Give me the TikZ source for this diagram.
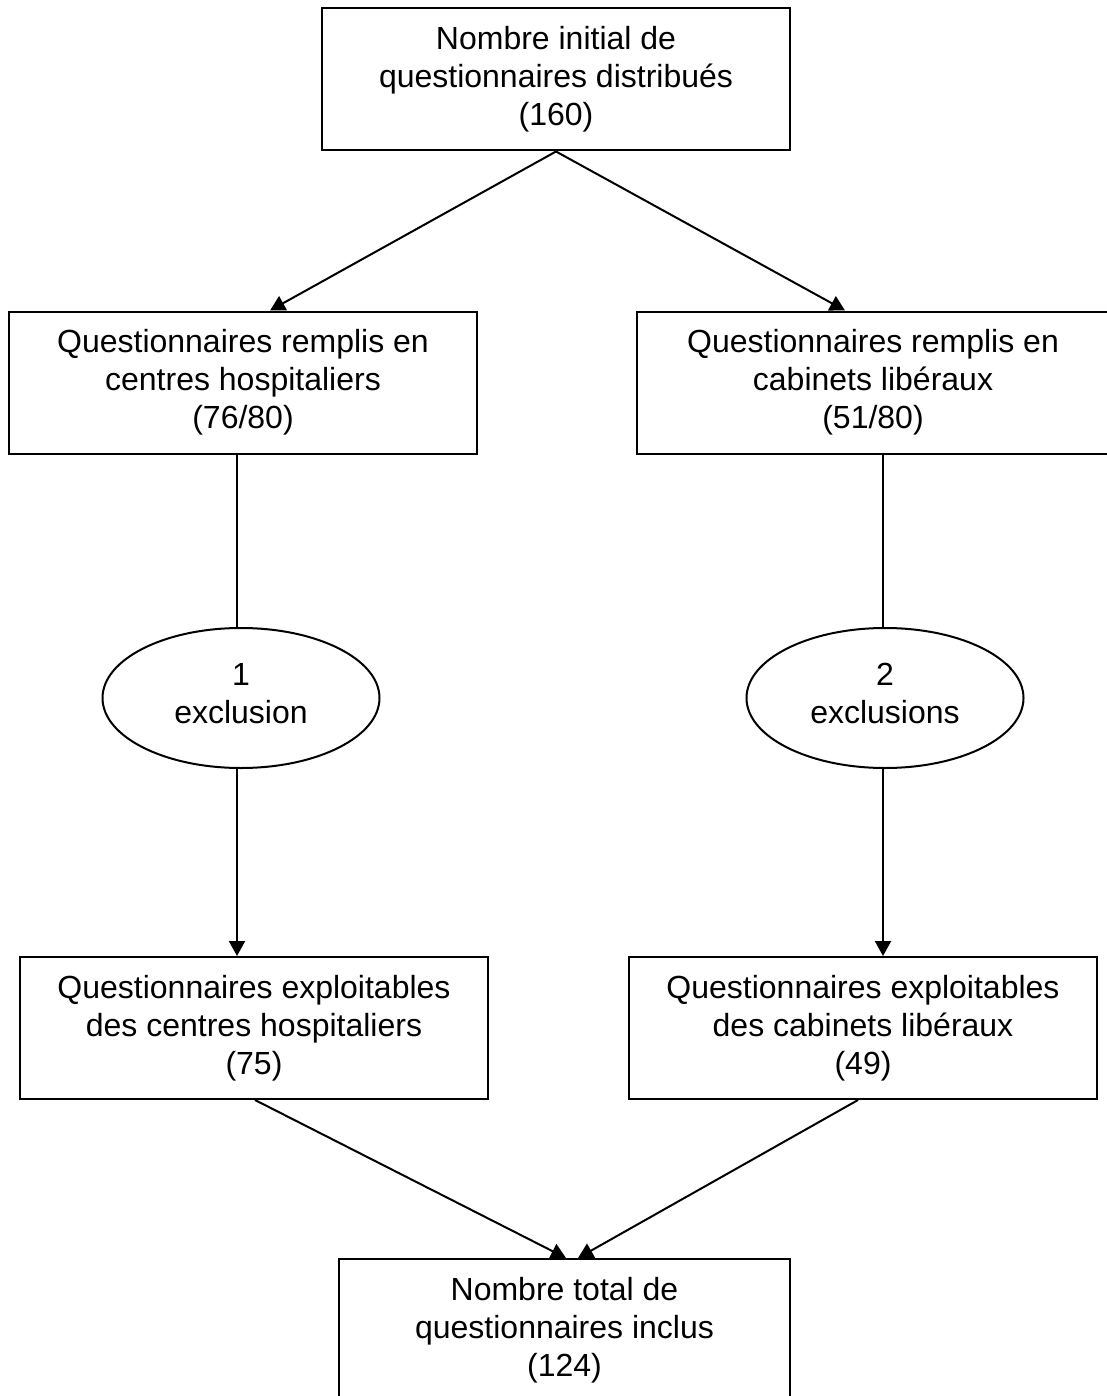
\documentclass[tikz,border=0pt]{standalone}
\usepackage{fontspec}
\setmainfont{Liberation Sans}
\usetikzlibrary{arrows.meta,shapes.geometric}
\begin{document}
\begin{tikzpicture}[x=1pt,y=-1pt,
  txt/.style={font=\fontsize{32}{38}\selectfont,align=center},
  box/.style={txt,draw,line width=2pt,minimum width=468pt,minimum height=142pt,inner sep=0pt},
  oval/.style={txt,ellipse,draw,line width=2pt,minimum width=277pt,minimum height=140pt,inner sep=0pt,text depth=10pt},
  link/.style={line width=2pt},
  arr/.style={link,-{Triangle[length=15pt,width=16pt]}}]
\useasboundingbox (0,0) rectangle (1106,1396);
\node[box] (top) at (556,79.5) {Nombre initial de\\questionnaires distribués\\(160)};
\node[box] (l2) at (243,382.5) {Questionnaires remplis en\\centres hospitaliers\\(76/80)};
\node[box,minimum width=472pt] (r2) at (873,382.5) {Questionnaires remplis en\\cabinets libéraux\\(51/80)};
\node[oval] (le) at (241,698) {1\\exclusion};
\node[oval] (re) at (885,698) {2\\exclusions};
\node[box] (l3) at (254,1028) {Questionnaires exploitables\\des centres hospitaliers\\(75)};
\node[box] (r3) at (863,1028) {Questionnaires exploitables\\des cabinets libéraux\\(49)};
\node[box,minimum width=451pt] (bot) at (564.5,1330) {Nombre total de\\questionnaires inclus\\(124)};
\draw[arr] (top.south) -- ([xshift=27pt]l2.north);
\draw[arr] (top.south) -- ([xshift=-28pt]r2.north);
\draw[link] ([xshift=-6pt]l2.south) -- ([xshift=-4pt]le.north);
\draw[arr] ([xshift=-4pt]le.south) -- ([xshift=-17pt]l3.north);
\draw[link] ([xshift=10pt]r2.south) -- ([xshift=-2pt]re.north);
\draw[arr] ([xshift=-2pt]re.south) -- ([xshift=20pt]r3.north);
\draw[arr] ([xshift=1pt]l3.south) -- ([xshift=1.5pt]bot.north);
\draw[arr] ([xshift=-5pt]r3.south) -- ([xshift=13.5pt]bot.north);
\end{tikzpicture}
\end{document}
